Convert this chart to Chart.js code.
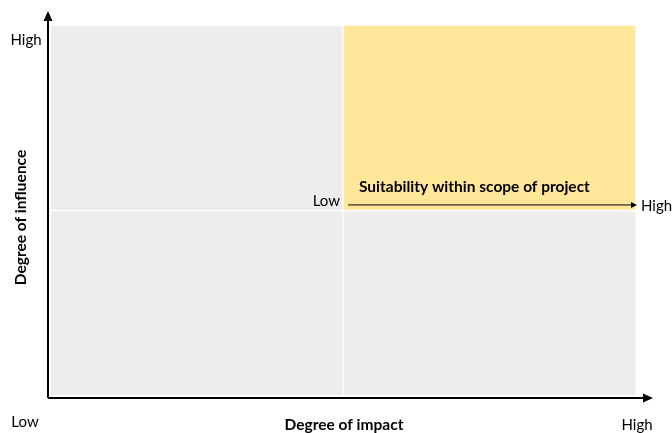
<!DOCTYPE html>
<html>
<head>
<meta charset="utf-8">
<script src="https://cdn.jsdelivr.net/npm/chart.js@4/dist/chart.umd.min.js"></script>
<style>
  html, body { margin: 0; padding: 0; background: #fff; }
  #wrap { width: 672px; height: 433px; position: relative; }
</style>
</head>
<body>
<div id="wrap"><canvas id="matrix"></canvas></div>
<script>
// quadrant matrix data
const impactLevels = ['Low', 'High'];        // x categories
const lowInfluence = [1, 1];                 // bottom row of the matrix
const highInfluence = [1, 1];                // top row of the matrix
const axisEnds = ['Low', 'High'];
const xTitle = 'Degree of impact';
const yTitle = 'Degree of influence';
const scopeLabel = 'Suitability within scope of project';

const FONT = 'Lato, "Open Sans", sans-serif';

function arrowHead(ctx, x, y, dir, len, half) {
    ctx.beginPath();
    if (dir === 'up') {
        ctx.moveTo(x, y);
        ctx.lineTo(x - half, y + len);
        ctx.lineTo(x + half, y + len);
    } else {
        ctx.moveTo(x, y);
        ctx.lineTo(x - len, y - half);
        ctx.lineTo(x - len, y + half);
    }
    ctx.closePath();
    ctx.fill();
}

const matrixDecor = {
    id: 'matrixDecor',
    afterDraw(chart) {
        const ctx = chart.ctx;
        const a = chart.chartArea;
        const xs = chart.scales.x, ys = chart.scales.y;
        const ox = a.left - 2, oy = a.bottom + 2;
        ctx.save();
        ctx.strokeStyle = '#000';
        ctx.fillStyle = '#000';

        // main axes
        ctx.lineWidth = 2;
        ctx.beginPath();
        ctx.moveTo(ox, oy);
        ctx.lineTo(ox, a.top - 6);
        ctx.moveTo(ox, oy);
        ctx.lineTo(a.right + 10, oy);
        ctx.stroke();
        arrowHead(ctx, ox, a.top - 14, 'up', 10, 4.5);
        arrowHead(ctx, a.right + 17, oy, 'right', 10, 4.5);

        // scope arrow across the top-right quadrant
        const mid = (xs.getPixelForValue(0) + xs.getPixelForValue(1)) / 2;
        const ay = ys.getPixelForValue(1.03);
        ctx.lineWidth = 1;
        ctx.beginPath();
        ctx.moveTo(mid + 5, ay);
        ctx.lineTo(a.right - 4, ay);
        ctx.stroke();
        arrowHead(ctx, a.right + 1, ay, 'right', 6, 3);

        ctx.font = '15px ' + FONT;
        ctx.textBaseline = 'middle';
        ctx.textAlign = 'right';
        ctx.fillText(axisEnds[0], mid - 3, ay - 4);
        ctx.textAlign = 'left';
        ctx.fillText(axisEnds[1], a.right + 5, ay + 1);

        ctx.font = 'bold 15.5px ' + FONT;
        ctx.textAlign = 'left';
        ctx.fillText(scopeLabel, mid + 16, ay - 18);

        // axis end labels
        ctx.font = '15px ' + FONT;
        ctx.textAlign = 'center';
        ctx.fillText(axisEnds[1], 26, ys.getPixelForValue(1.92));
        ctx.fillText(axisEnds[0], 25, oy + 24);
        ctx.fillText(axisEnds[1], a.right + 1, oy + 27);

        // axis titles
        ctx.font = 'bold 15.5px ' + FONT;
        ctx.fillText(xTitle, mid + 1, oy + 27);
        ctx.translate(21, (a.top + a.bottom) / 2 + 7);
        ctx.rotate(-Math.PI / 2);
        ctx.fillText(yTitle, 0, 0);
        ctx.restore();
    }
};

new Chart(document.getElementById('matrix'), {
    type: 'bar',
    data: {
        labels: impactLevels,
        datasets: [
            {
                label: 'Low influence',
                data: lowInfluence,
                backgroundColor: ['#ededed', '#ededed'],
                borderColor: '#ffffff',
                borderWidth: 1,
                borderSkipped: false
            },
            {
                label: 'High influence',
                data: highInfluence,
                backgroundColor: ['#ededed', '#ffe699'],
                borderColor: '#ffffff',
                borderWidth: 1,
                borderSkipped: false
            }
        ]
    },
    options: {
        responsive: true,
        maintainAspectRatio: false,
        animation: false,
        layout: { padding: { left: 50, right: 36, top: 25, bottom: 37 } },
        datasets: { bar: { barPercentage: 1, categoryPercentage: 1 } },
        plugins: { legend: { display: false }, tooltip: { enabled: false } },
        scales: {
            x: { stacked: true, display: false },
            y: { stacked: true, display: false, min: 0, max: 2 }
        }
    },
    plugins: [matrixDecor]
});
</script>
</body>
</html>
